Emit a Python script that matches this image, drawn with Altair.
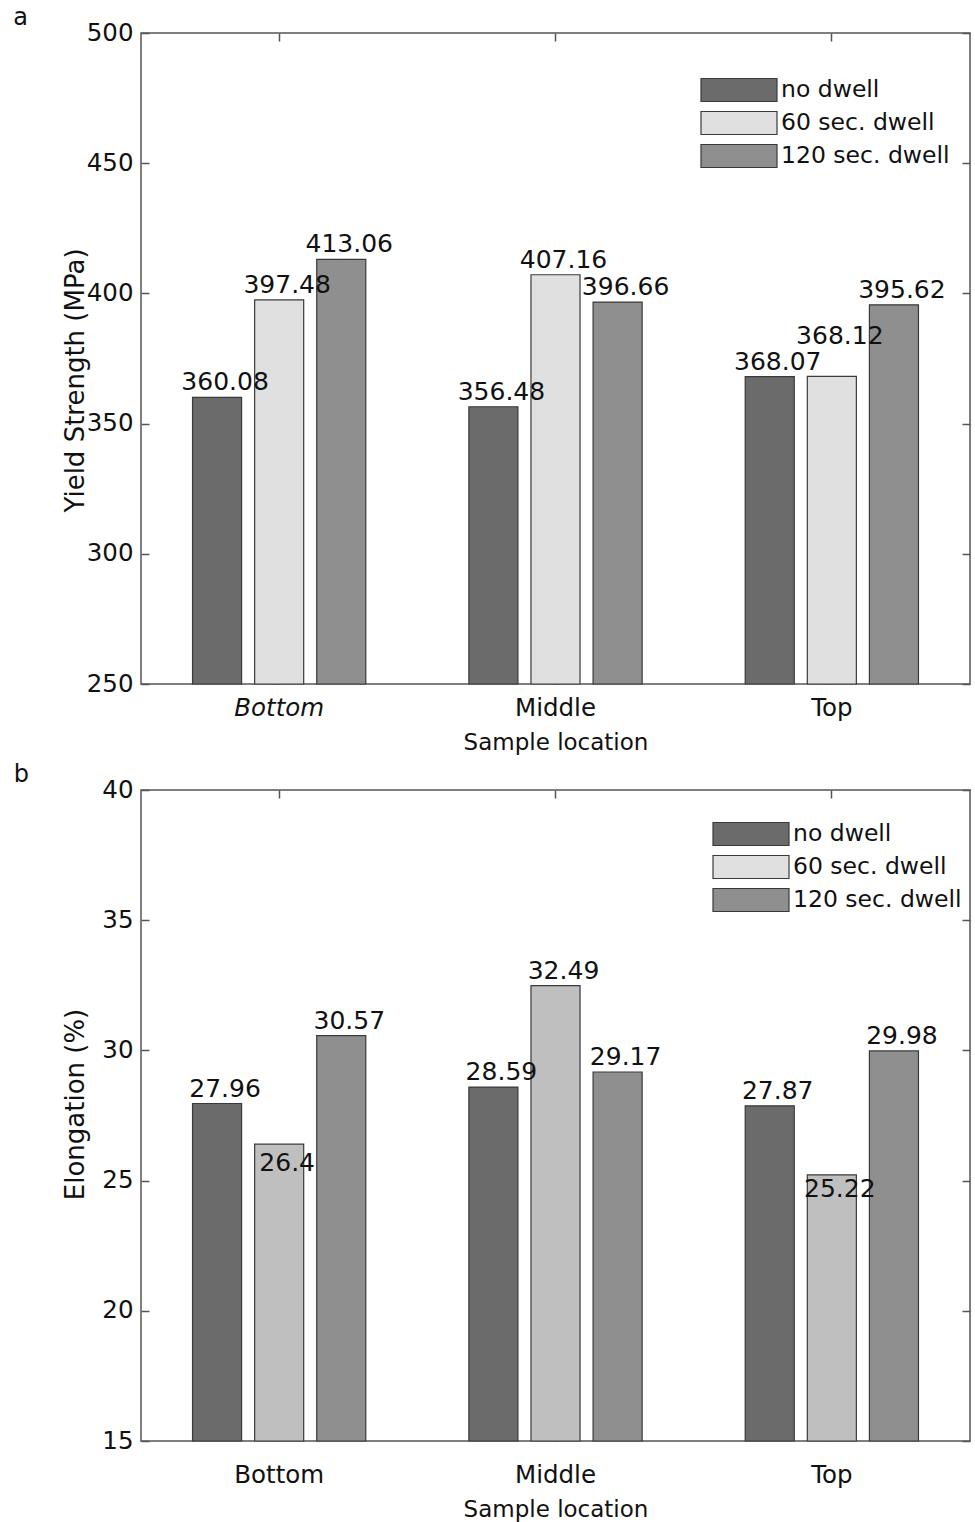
import altair as alt
import pandas as pd

locations = ["Bottom", "Middle", "Top"]
series = ["no dwell", "60 sec. dwell", "120 sec. dwell"]

yield_no = [360.08, 356.48, 368.07]
yield_60 = [397.48, 407.16, 368.12]
yield_120 = [413.06, 396.66, 395.62]

elong_no = [27.96, 28.59, 27.87]
elong_60 = [26.4, 32.49, 25.22]
elong_120 = [30.57, 29.17, 29.98]

yield_ticks = [250, 300, 350, 400, 450, 500]
elong_ticks = [15, 20, 25, 30, 35, 40]

colors_a = ["#6b6b6b", "#e0e0e0", "#8f8f8f"]
colors_b = ["#6b6b6b", "#bfbfbf", "#8f8f8f"]
legend_colors = ["#6b6b6b", "#e0e0e0", "#8f8f8f"]

FONT = "DejaVu Sans"
FRAME = "#555555"
BAR_STROKE = "#3a3a3a"


def make_df(vals_lists):
    rows = []
    for s, vals in zip(series, vals_lists):
        for loc, v in zip(locations, vals):
            rows.append({"Location": loc, "Series": s, "Value": v, "Label": str(v)})
    return pd.DataFrame(rows)


def panel(df, ticks, ytitle, bar_colors, letter, italic_bottom, legend_x, legend_y,
          ytitle_pad, ytitle_y, xlabel_pad, label_expr):
    ymin, ymax = ticks[0], ticks[-1]
    yscale = alt.Scale(domain=[ymin, ymax], nice=False, zero=False)
    xscale = alt.Scale(domain=locations, paddingInner=0, paddingOuter=0)
    off_scale = alt.Scale(domain=series, paddingInner=0.21, paddingOuter=0.83)
    if italic_bottom:
        label_style = {"condition": {"test": "datum.value == 'Bottom'", "value": "italic"}, "value": "normal"}
    else:
        label_style = "normal"

    x_bottom = alt.X(
        "Location:N", scale=xscale, sort=locations, title="Sample location",
        axis=alt.Axis(orient="bottom", labelAngle=0, offset=-8, tickSize=8, domain=False,
                      labelPadding=xlabel_pad, titlePadding=12, labelFontStyle=label_style),
    )
    y_left = alt.Y(
        "Value:Q", scale=yscale, title=ytitle,
        axis=alt.Axis(orient="left", values=ticks, offset=-8, tickSize=8, domain=False,
                      labelPadding=8, titlePadding=ytitle_pad, titleY=ytitle_y,
                      titleFontSize=26, grid=False),
    )
    x_off = alt.XOffset("Series:N", scale=off_scale, sort=series)

    bars = alt.Chart(df).mark_bar(stroke=BAR_STROKE, strokeWidth=1.2).encode(
        x=x_bottom,
        xOffset=x_off,
        y=y_left,
        y2=alt.datum(ymin),
        color=alt.Color("Series:N", scale=alt.Scale(domain=series, range=bar_colors),
                        sort=series, legend=None),
    )

    leg = alt.Chart(df).mark_bar(opacity=0).encode(
        x=alt.X("Location:N", scale=xscale, sort=locations, axis=None),
        xOffset=x_off,
        y=alt.Y("Value:Q", scale=yscale, axis=None),
        y2=alt.datum(ymin),
        color=alt.Color(
            "Series:N", scale=alt.Scale(domain=series, range=legend_colors), sort=series,
            legend=alt.Legend(
                title=None, orient="none", legendX=legend_x, legendY=legend_y,
                symbolType="M-2.235,-0.676H2.235V0.676H-2.235Z", symbolSize=1156,
                symbolOpacity=1, symbolStrokeColor=BAR_STROKE, symbolStrokeWidth=1.2,
                labelFontSize=23.5, labelFont=FONT, labelColor="#111111", labelLimit=0,
                rowPadding=1, labelOffset=24,
            ),
        ),
    )

    text = alt.Chart(df).transform_calculate(
        LabelPos=label_expr
    ).mark_text(
        fontSize=25, font=FONT, dx=8, dy=-7, baseline="alphabetic", color="#111111"
    ).encode(
        x=alt.X("Location:N", scale=xscale, sort=locations,
                axis=alt.Axis(orient="top", labels=False, title=None, offset=-8, tickSize=8,
                              domain=False, minExtent=0, labelPadding=0)),
        xOffset=x_off,
        y=alt.Y("LabelPos:Q", scale=yscale,
                axis=alt.Axis(orient="right", labels=False, title=None, values=ticks, offset=-8,
                              tickSize=8, domain=False, grid=False, minExtent=0, labelPadding=0)),
        text="Label:N",
    )

    return (
        alt.layer(bars, leg, text)
        .resolve_scale(color="independent")
        .resolve_axis(x="independent", y="independent")
        .properties(
            width=829, height=651,
            title=alt.TitleParams(letter, anchor="start", frame="bounds", fontSize=24,
                                  fontWeight="normal", font=FONT, color="#111111", dx=-49, offset=-10),
        )
    )


df_a = make_df([yield_no, yield_60, yield_120])
df_b = make_df([elong_no, elong_60, elong_120])

pa = panel(df_a, yield_ticks, "Yield Strength (MPa)", colors_a, "a", True, 580, 39, -2, 347, 12,
           "datum.Value + (datum.Label == '368.12' ? 9.6 : 0)")
pb = panel(df_b, elong_ticks, "Elongation (%)", colors_b, "b", False, 592, 26, 13, 314, 22,
           "datum.Value - (datum.Label == '26.4' ? 1.31 : datum.Label == '25.22' ? 1.12 : 0)")

chart = (
    alt.vconcat(pa, pb, spacing=6)
    .properties(padding={"left": 12, "top": 5, "right": 0, "bottom": 0}, background="white")
    .configure_view(stroke=FRAME, strokeWidth=1.5)
    .configure_axis(
        tickColor=FRAME, tickWidth=1.5, labelFont=FONT, titleFont=FONT,
        labelFontSize=24.5, titleFontSize=23, labelColor="#111111", titleColor="#111111",
        titleFontWeight="normal",
    )
)

chart.save("out.html", embed_options={"renderer": "svg", "actions": False})
